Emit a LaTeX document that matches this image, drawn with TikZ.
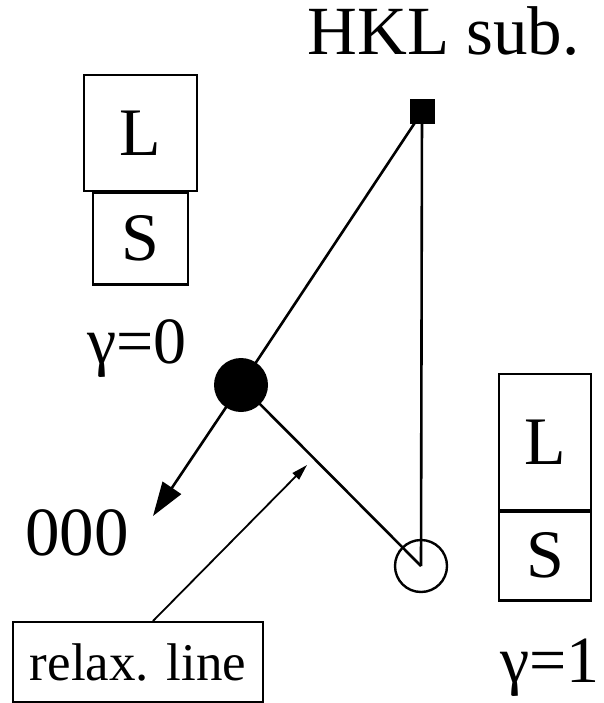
\documentclass[tikz,border=0pt]{standalone}
\usepackage{fontspec}
\setmainfont{Liberation Serif}
\usetikzlibrary{arrows.meta}
\begin{document}
\begin{tikzpicture}[x=1pt,y=-1pt,
  lbl/.style={font=\fontsize{69}{72}\selectfont, inner sep=0pt, anchor=base},
  glbl/.style={font=\fontsize{66}{70}\selectfont, inner sep=0pt, anchor=base},
  boxx/.style={draw, line width=2.6pt, inner sep=0pt, font=\fontsize{68}{70}\selectfont},
  main/.style={line width=2.6pt},
  thin/.style={line width=1.8pt}]
\useasboundingbox (0,0) rectangle (603,703);
% left boxes
\node[boxx, minimum width=113pt, minimum height=116pt] (L1) at (140.5,133) {L};
\node[boxx, minimum width=95pt, minimum height=92pt, anchor=north] (S1) at (140.5,191) {S};
\node[glbl] (g0) at (137,363) {γ=0};
% right boxes
\node[boxx, minimum width=92pt, minimum height=136pt] (L2) at (545,442) {L};
\node[boxx, minimum width=92pt, minimum height=89pt, anchor=north] (S2) at (545,510) {S};
\node[glbl] (g1) at (550,682) {γ=1};
% labels
\node[lbl] (hkl) at (443.5,55) {HKL sub.};
\node[lbl] (o) at (77,555) {000};
\node[draw, line width=2pt, minimum width=250pt, minimum height=80pt, inner sep=0pt,
      font=\fontsize{53}{55}\selectfont] (rl) at (138,662) {relax. line};
% points
\node[fill=black, minimum size=25pt, inner sep=0pt] (sq) at (422,112) {};
\node[circle, draw, line width=2.4pt, minimum size=52pt, inner sep=0pt] (oc) at (421,566) {};
\coordinate (tip) at (153,516);
\coordinate (rtip) at (307,465);
% connectors
\draw[main] (sq.center) -- (oc.center);
\draw[main] (sq.center) -- (241,385) coordinate (fcc);
\draw[main, -{Triangle[length=34pt,width=22pt]}] (fcc) -- (tip);
\draw[main] (fcc) -- (oc.center);
\node[circle, fill=black, minimum size=54pt, inner sep=0pt] (fc) at (fcc) {};
\node[fill=black, minimum size=25pt, inner sep=0pt] at (sq) {};
\draw[thin, -{Triangle[length=16pt,width=9pt]}] (rl.north -| 153,0) -- (rtip);
\end{tikzpicture}
\end{document}
